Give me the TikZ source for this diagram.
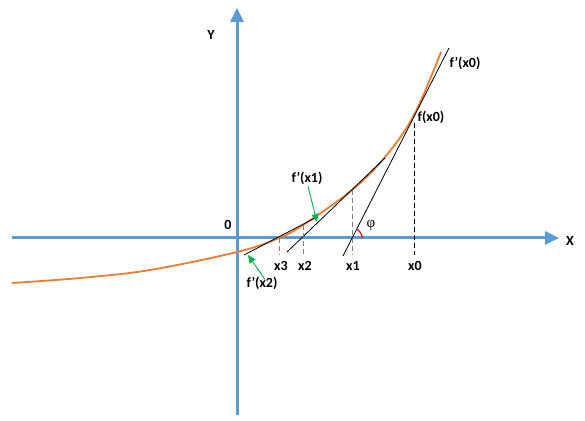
\documentclass[tikz,border=0pt]{standalone}
\usepackage{fontspec}
\setmainfont{Carlito}
\newfontfamily\greekfont{Liberation Serif}
\usetikzlibrary{arrows.meta}

\definecolor{axisblue}{HTML}{5B9BD5}
\definecolor{curveorange}{HTML}{ED7D31}
\definecolor{hintgreen}{HTML}{00B050}

\tikzstyle{lbl} = [inner sep=0pt, font=\fontsize{14}{16}\selectfont\bfseries]
\tikzstyle{axis} = [axisblue, line width=3pt, -{Triangle[length=14pt, width=13pt]}]
\tikzstyle{tangent} = [black, line width=0.8pt]
\tikzstyle{drop} = [gray, line width=0.9pt, dash pattern=on 5pt off 3pt]
\tikzstyle{hint} = [hintgreen, line width=0.9pt, -{Triangle[length=8pt, width=7pt]}]

\begin{document}
\begin{tikzpicture}[x=1pt, y=1pt]
\useasboundingbox (0,0) rectangle (585,420);

% axes
\coordinate (AxisLeft) at (12,182);
\coordinate (AxisRight) at (559,182);
\coordinate (AxisBottom) at (237,5);
\coordinate (AxisTop) at (237,412);
\draw[axis] (AxisLeft) -- (AxisRight);
\draw[axis] (AxisBottom) -- (AxisTop);

\node[lbl] (LabelX) at (570,179) {X};
\node[lbl] (LabelY) at (211,385) {Y};
\node[lbl] (LabelOrigin) at (228,195) {0};

% the function
\draw[curveorange, line width=1.8pt] plot[smooth, tension=0.6] coordinates {
  (12,137) (80,142) (150,150) (237,168) (279,182) (303,195)
  (352,230) (385,263) (414,305) (441,368)};

% tangents
\coordinate (TanZeroLow) at (343,164);
\coordinate (TanZeroHigh) at (449,372);
\coordinate (TanOneLow) at (287,168);
\coordinate (TanOneHigh) at (385,262);
\coordinate (TanTwoLow) at (244,165);
\coordinate (TanTwoHigh) at (315,202);
\draw[tangent] (TanZeroLow) -- (TanZeroHigh);
\draw[tangent] (TanOneLow) -- (TanOneHigh);
\draw[tangent] (TanTwoLow) -- (TanTwoHigh);

% drop lines to the axis
\coordinate (OnCurveZero) at (414,297);
\coordinate (OnCurveOne) at (352,230);
\coordinate (OnCurveTwo) at (303,195);
\coordinate (OnCurveThree) at (279,182);
\coordinate (FootZero) at (414,165);
\coordinate (FootOne) at (352,165);
\coordinate (FootTwo) at (303,165);
\coordinate (FootThree) at (279,165);
\draw[drop, black] (OnCurveZero) -- (FootZero);
\draw[drop] (OnCurveOne) -- (FootOne);
\draw[drop] (OnCurveTwo) -- (FootTwo);
\draw[drop] (OnCurveThree) -- (FootThree);

\node[lbl] (LabelXZero) at (415,154) {x0};
\node[lbl] (LabelXOne) at (353,154) {x1};
\node[lbl] (LabelXTwo) at (305,154) {x2};
\node[lbl] (LabelXThree) at (281,154) {x3};

% angle at x1
\coordinate (CrossOne) at (352,182);
\draw[red, line width=1.2pt] ([shift={(0:10)}]CrossOne) arc (0:63:10);
\node[inner sep=0pt, font=\fontsize{15}{17}\selectfont\greekfont] (LabelPhi) at (371,194) {φ};

% labels of the derivatives
\node[lbl] (LabelFZero) at (431,303) {f(x0)};
\node[lbl] (LabelFpZero) at (465,357) {f’(x0)};
\node[lbl] (LabelFpOne) at (307,242) {f’(x1)};
\node[lbl] (LabelFpTwo) at (262,137) {f’(x2)};

\coordinate (TouchOne) at (317,198);
\coordinate (TouchTwo) at (248,165);
\draw[hint] (LabelFpOne.south) ++(1,-2) -- (TouchOne);
\draw[hint] (LabelFpTwo.north) ++(3,-3) -- (TouchTwo);

\end{tikzpicture}
\end{document}
